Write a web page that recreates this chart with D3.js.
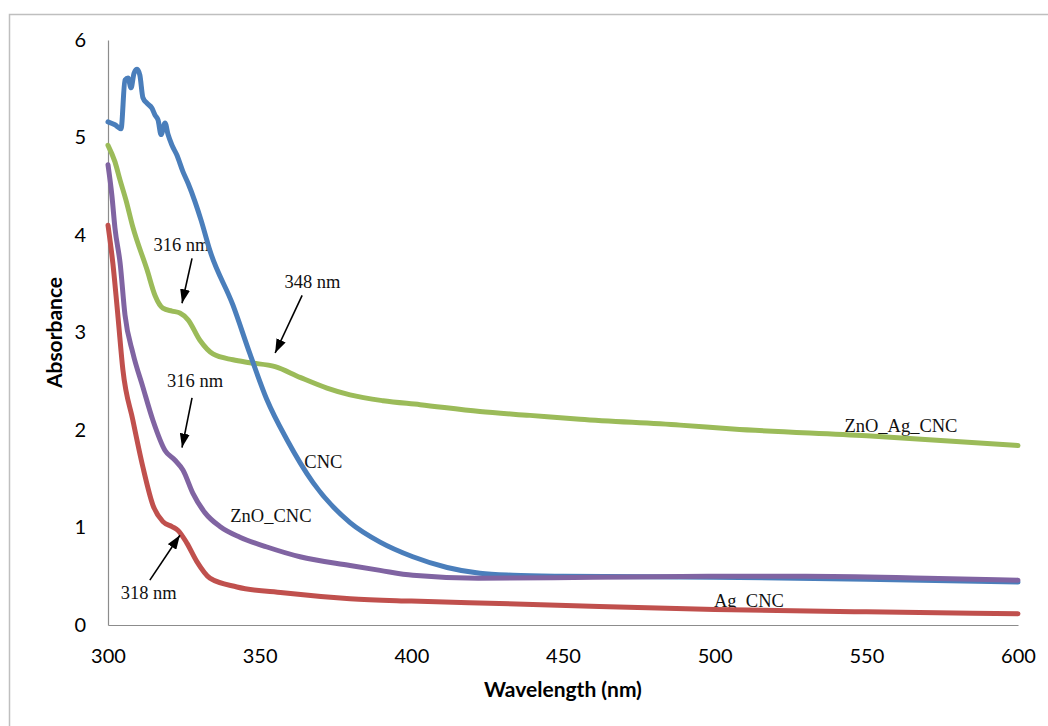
<!DOCTYPE html>
<html>
<head>
<meta charset="utf-8">
<script src="https://cdn.jsdelivr.net/npm/d3@7"></script>
<style>
  body { margin: 0; background: #fff; }
  .tick-label { font-family: Lato, "Open Sans", sans-serif; font-size: 20px; fill: #000; }
  .axis-title { font-family: Lato, "Open Sans", sans-serif; font-size: 21px; font-weight: bold; fill: #000; }
  .note { font-family: "Liberation Serif", "Times New Roman", serif; font-size: 18.5px; fill: #111; }
</style>
</head>
<body>
<svg id="chart" width="1048" height="726"></svg>
<script>
/* global d3 */

// [wavelength (nm), absorbance]
const cnc = [
  [300, 5.16], [302.3, 5.13], [304.3, 5.09], [305.6, 5.59], [306.6, 5.61],
  [307.6, 5.51], [308.6, 5.66], [309.6, 5.70], [310.5, 5.64], [311.5, 5.41],
  [312.9, 5.35], [314.5, 5.30], [315.5, 5.23], [316.5, 5.18], [317.5, 5.03],
  [318.8, 5.15], [319.8, 5.03], [321.1, 4.92], [322.7, 4.82], [324.7, 4.65],
  [326.4, 4.53], [328.7, 4.34], [330.7, 4.15], [333.6, 3.84], [341.2, 3.28],
  [346.8, 2.78], [352.4, 2.31], [359, 1.90], [367.6, 1.46], [379.8, 1.05],
  [389.7, 0.85], [400.5, 0.70], [411.8, 0.59], [422.6, 0.53], [433.5, 0.51],
  [450, 0.50], [500, 0.49], [550, 0.47], [600, 0.44],
];

const znoAgCnc = [
  [300, 4.92], [302.3, 4.75], [304, 4.56], [305.9, 4.36], [308.2, 4.08],
  [312.9, 3.64], [315.5, 3.38], [318.1, 3.25], [321.1, 3.22], [323.7, 3.20],
  [326.4, 3.13], [330.3, 2.92], [334.6, 2.78], [341.2, 2.72], [346.8, 2.69],
  [355.1, 2.65], [363.3, 2.54], [372.2, 2.43], [379.8, 2.36], [390.7, 2.30],
  [402.9, 2.26], [422.6, 2.19], [439.1, 2.15], [455.6, 2.11], [488.6, 2.05],
  [506, 2.01], [550.2, 1.94], [600, 1.84],
];

const znoCnc = [
  [300, 4.72], [301.3, 4.40], [302.3, 4.07], [304, 3.71],
  [305.6, 3.18], [308.2, 2.79], [311.5, 2.44], [314.8, 2.10], [318.8, 1.79],
  [322.1, 1.69], [324.7, 1.59], [328, 1.35], [332, 1.15], [336.9, 1.01],
  [343.5, 0.90], [352.4, 0.80], [363.3, 0.70], [379.8, 0.61], [389.7, 0.56],
  [400.5, 0.51], [422, 0.48], [460, 0.49], [500, 0.50], [530, 0.50],
  [570, 0.48], [600, 0.46],
];

const agCnc = [
  [300, 4.10], [301.6, 3.71], [303.3, 3.16], [304.9, 2.62], [308.2, 2.10],
  [311.5, 1.62], [314.8, 1.23], [318.1, 1.06], [321.1, 1.01], [323.1, 0.97],
  [326, 0.84], [329.3, 0.65], [333.6, 0.48], [342.5, 0.39], [357.7, 0.33],
  [379.8, 0.27], [400, 0.245], [429, 0.22], [462, 0.19], [500, 0.16],
  [550, 0.135], [600, 0.115],
];

const seriesNames = ['ZnO_Ag_CNC', 'CNC', 'ZnO_CNC', 'Ag_CNC'];
const seriesColors = ['#9bbb59', '#4a7ebb', '#8064a2', '#c0504d'];
const seriesData = [znoAgCnc, cnc, znoCnc, agCnc];

const xTicks = [300, 350, 400, 450, 500, 550, 600];
const yTicks = [0, 1, 2, 3, 4, 5, 6];

// curve labels: text, wavelength, absorbance (baseline position)
const curveLabels = [
  ['ZnO_Ag_CNC', 561.4, 1.98],
  ['CNC', 371, 1.61],
  ['ZnO_CNC', 353.7, 1.06],
  ['Ag_CNC', 511.3, 0.18],
];

// peak notes: text, text wl, text abs, tail wl, tail abs, tip wl, tip abs
const peakNotes = [
  ['316 nm', 324.2, 3.84, 327.7, 3.76, 324.4, 3.30],
  ['348 nm', 367.4, 3.46, 364.0, 3.38, 355.1, 2.79],
  ['316 nm', 328.7, 2.44, 327.7, 2.33, 324.4, 1.82],
  ['318 nm', 313.4, 0.27, 313.8, 0.46, 323.7, 0.92],
];

const svg = d3.select('#chart');

// outer frame, runs off the right and bottom edges
svg.append('rect')
  .attr('x', 9.5).attr('y', 14.5)
  .attr('width', 1200).attr('height', 900)
  .attr('fill', 'none')
  .attr('stroke', '#bfbfbf')
  .attr('stroke-width', 1.5);

const x = d3.scaleLinear().domain([300, 600]).range([108, 1018]);
const y = d3.scaleLinear().domain([0, 6]).range([625, 40]);

// axes, Excel style: grey lines, no tick marks
const xAxis = d3.axisBottom(x).tickValues(xTicks).tickSize(0).tickPadding(24);
const yAxis = d3.axisLeft(y).tickValues(yTicks).tickSize(0).tickPadding(22)
  .tickFormat(d3.format('d'));

const gx = svg.append('g')
  .attr('transform', `translate(0,${y(0)})`)
  .call(xAxis);
const gy = svg.append('g')
  .attr('transform', `translate(${x(300)},0)`)
  .call(yAxis);

[gx, gy].forEach(g => {
  g.select('.domain').attr('stroke', '#8c8c8c').attr('stroke-width', 1.2);
  g.selectAll('.tick text').attr('class', 'tick-label').attr('font-family', null).attr('font-size', null);
});

svg.append('text')
  .attr('class', 'axis-title')
  .attr('x', (x(300) + x(600)) / 2)
  .attr('y', 697)
  .attr('text-anchor', 'middle')
  .text('Wavelength (nm)');

svg.append('text')
  .attr('class', 'axis-title')
  .attr('transform', `translate(62,${(y(0) + y(6)) / 2}) rotate(-90)`)
  .attr('text-anchor', 'middle')
  .text('Absorbance');

// labels go under the lines (the Ag_CNC underscore is hidden by the red line)
svg.selectAll('.curve-label')
  .data(curveLabels)
  .enter().append('text')
    .attr('class', 'note')
    .attr('x', d => x(d[1]))
    .attr('y', d => y(d[2]))
    .attr('text-anchor', 'middle')
    .text(d => d[0]);

svg.selectAll('.peak-label')
  .data(peakNotes)
  .enter().append('text')
    .attr('class', 'note')
    .attr('x', d => x(d[1]))
    .attr('y', d => y(d[2]))
    .attr('text-anchor', 'middle')
    .text(d => d[0]);

const line = d3.line()
  .x(d => x(d[0]))
  .y(d => y(d[1]))
  .curve(d3.curveMonotoneX);

svg.selectAll('.series')
  .data(seriesData)
  .enter().append('path')
    .attr('class', (d, i) => `series ${seriesNames[i]}`)
    .attr('d', line)
    .attr('fill', 'none')
    .attr('stroke', (d, i) => seriesColors[i])
    .attr('stroke-width', 5)
    .attr('stroke-linejoin', 'round')
    .attr('stroke-linecap', 'round');

// arrows
svg.append('defs').append('marker')
  .attr('id', 'head')
  .attr('viewBox', '0 0 14 10')
  .attr('refX', 14).attr('refY', 5)
  .attr('markerWidth', 14).attr('markerHeight', 10)
  .attr('markerUnits', 'userSpaceOnUse')
  .attr('orient', 'auto')
  .append('path')
    .attr('d', 'M0,0 L14,5 L0,10 Z')
    .attr('fill', '#000');

svg.selectAll('.arrow')
  .data(peakNotes)
  .enter().append('line')
    .attr('class', 'arrow')
    .attr('x1', d => x(d[3])).attr('y1', d => y(d[4]))
    .attr('x2', d => x(d[5])).attr('y2', d => y(d[6]))
    .attr('stroke', '#000')
    .attr('stroke-width', 1.6)
    .attr('marker-end', 'url(#head)');
</script>
</body>
</html>
